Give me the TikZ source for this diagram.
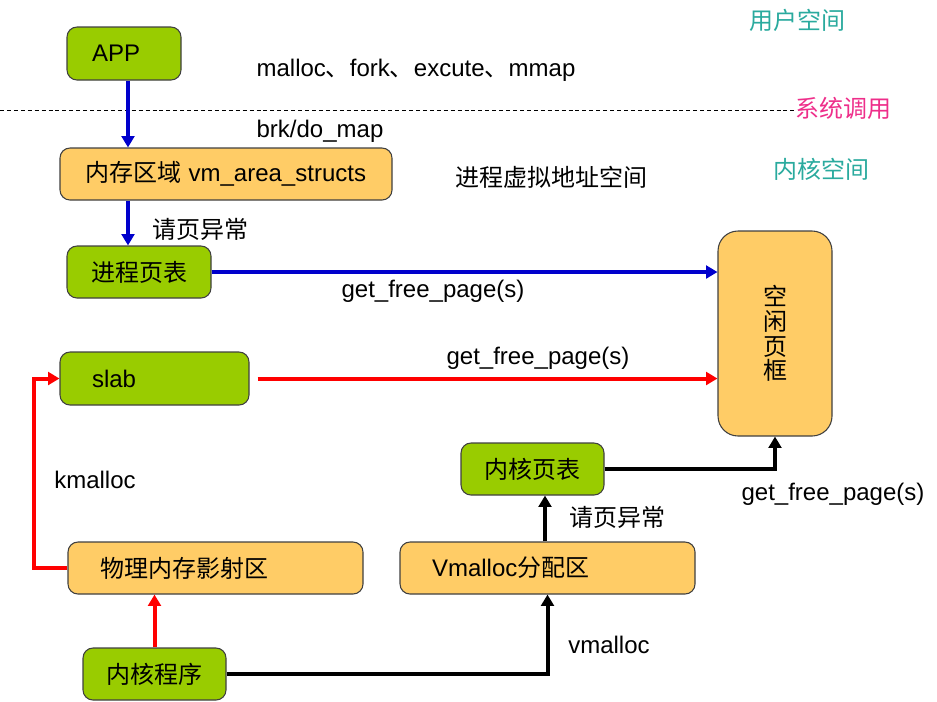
\documentclass[tikz,border=0pt]{standalone}
\usepackage{fontspec}
\setmainfont{Liberation Sans}
\newfontfamily\cjk{Noto Sans CJK SC}
\usetikzlibrary{arrows.meta}
\definecolor{boxgreen}{HTML}{99CC00}
\definecolor{boxorange}{HTML}{FFCC66}
\definecolor{boxline}{HTML}{404040}
\definecolor{arrblue}{HTML}{0000CC}
\definecolor{arrred}{HTML}{FF0000}
\definecolor{teal}{HTML}{2AAA9E}
\definecolor{pinkish}{HTML}{EE2E8A}
\begin{document}
\begin{tikzpicture}[x=0.75pt,y=-0.75pt,
  every node/.style={font=\fontsize{18}{21.5}\selectfont},
  box/.style={draw=boxline, line width=0.8pt, rounded corners=7.5pt, inner sep=0pt},
  gbox/.style={box, fill=boxgreen},
  obox/.style={box, fill=boxorange},
  lbl/.style={inner sep=0pt, anchor=center},
  conn/.style={line width=3pt, -{Triangle[width=9.5pt,length=8.5pt]}},
  blueconn/.style={conn, draw=arrblue, -{Triangle[width=9.5pt,length=8.5pt,fill=arrblue]}},
  redconn/.style={conn, draw=arrred, -{Triangle[width=9.5pt,length=8.5pt,fill=arrred]}},
  blackconn/.style={conn, draw=black}]
\useasboundingbox (0,0) rectangle (937,701);

% dashed separator
\coordinate (dl) at (0,110);
\coordinate (dr) at (795,110);
\draw[dash pattern=on 3pt off 2.2pt, line width=0.6pt] (dl) -- (dr);

% boxes
\node[gbox, minimum width=85.5pt, minimum height=39.75pt, text width=48pt, align=left, inner xsep=18.75pt] (app) at (124,53.5) {APP};
\node[obox, minimum width=249pt, minimum height=39pt] (vma) at (226,174) {{\cjk 内存区域} vm\_area\_structs};
\node[gbox, minimum width=108pt, minimum height=39pt] (ppt) at (139,272) {\cjk 进程页表};
\node[gbox, minimum width=141.75pt, minimum height=39.75pt, text width=93.75pt, align=left, inner xsep=24pt] (slab) at (154.5,378.5) {slab};
\node[obox, minimum width=85.5pt, minimum height=153.75pt, rounded corners=15pt, align=center] (free) at (775,333.5) {\cjk 空\\[-3pt]\cjk 闲\\[-3pt]\cjk 页\\[-3pt]\cjk 框};
\node[obox, minimum width=221.25pt, minimum height=39pt, text width=173.25pt, align=left, inner xsep=24pt] (phys) at (215.5,568) {\cjk 物理内存影射区};
\node[gbox, minimum width=107.25pt, minimum height=39pt] (kprog) at (154.5,674) {\cjk 内核程序};
\node[obox, minimum width=221.25pt, minimum height=39pt, text width=173.25pt, align=left, inner xsep=24pt] (vmal) at (547.5,568) {Vmalloc{\cjk 分配区}};
\node[gbox, minimum width=107.25pt, minimum height=39pt] (kpt) at (532.5,469) {\cjk 内核页表};

% labels
\node[lbl] at (416,70) {malloc{\cjk 、}fork{\cjk 、}excute{\cjk 、}mmap};
\node[lbl] at (320,131) {brk/do\_map};
\node[lbl] at (551,177) {\cjk 进程虚拟地址空间};
\node[lbl] at (200,229) {\cjk 请页异常};
\node[lbl] at (433,291) {get\_free\_page(s)};
\node[lbl] at (538,358) {get\_free\_page(s)};
\node[lbl] at (95,480) {kmalloc};
\node[lbl] at (617,517) {\cjk 请页异常};
\node[lbl] at (833,494) {get\_free\_page(s)};
\node[lbl] at (609,645) {vmalloc};
\node[lbl, text=teal] at (797,20) {\cjk 用户空间};
\node[lbl, text=pinkish] at (843,108) {\cjk 系统调用};
\node[lbl, text=teal] at (821,169) {\cjk 内核空间};

% connectors
\coordinate (xa) at (128,0);
\coordinate (xb) at (545,0);
\draw[blueconn] (app.south -| xa) -- (vma.north -| xa);
\draw[blueconn] (vma.south -| xa) -- (ppt.north -| xa);
\draw[blueconn] (ppt.east) -- (ppt.east -| free.west);
\draw[redconn] ([xshift=6pt]slab.east) -- (slab.east -| free.west);
\draw[redconn] (phys.west) -- ++(-24.75pt,0) |- (slab.west);
\draw[redconn] (kprog.north) -- (kprog.north |- phys.south);
\draw[blackconn] (kprog.east) -| (vmal.south);
\draw[blackconn] (vmal.north -| xb) -- (kpt.south -| xb);
\draw[blackconn] (kpt.east) -| (free.south);
\end{tikzpicture}
\end{document}
